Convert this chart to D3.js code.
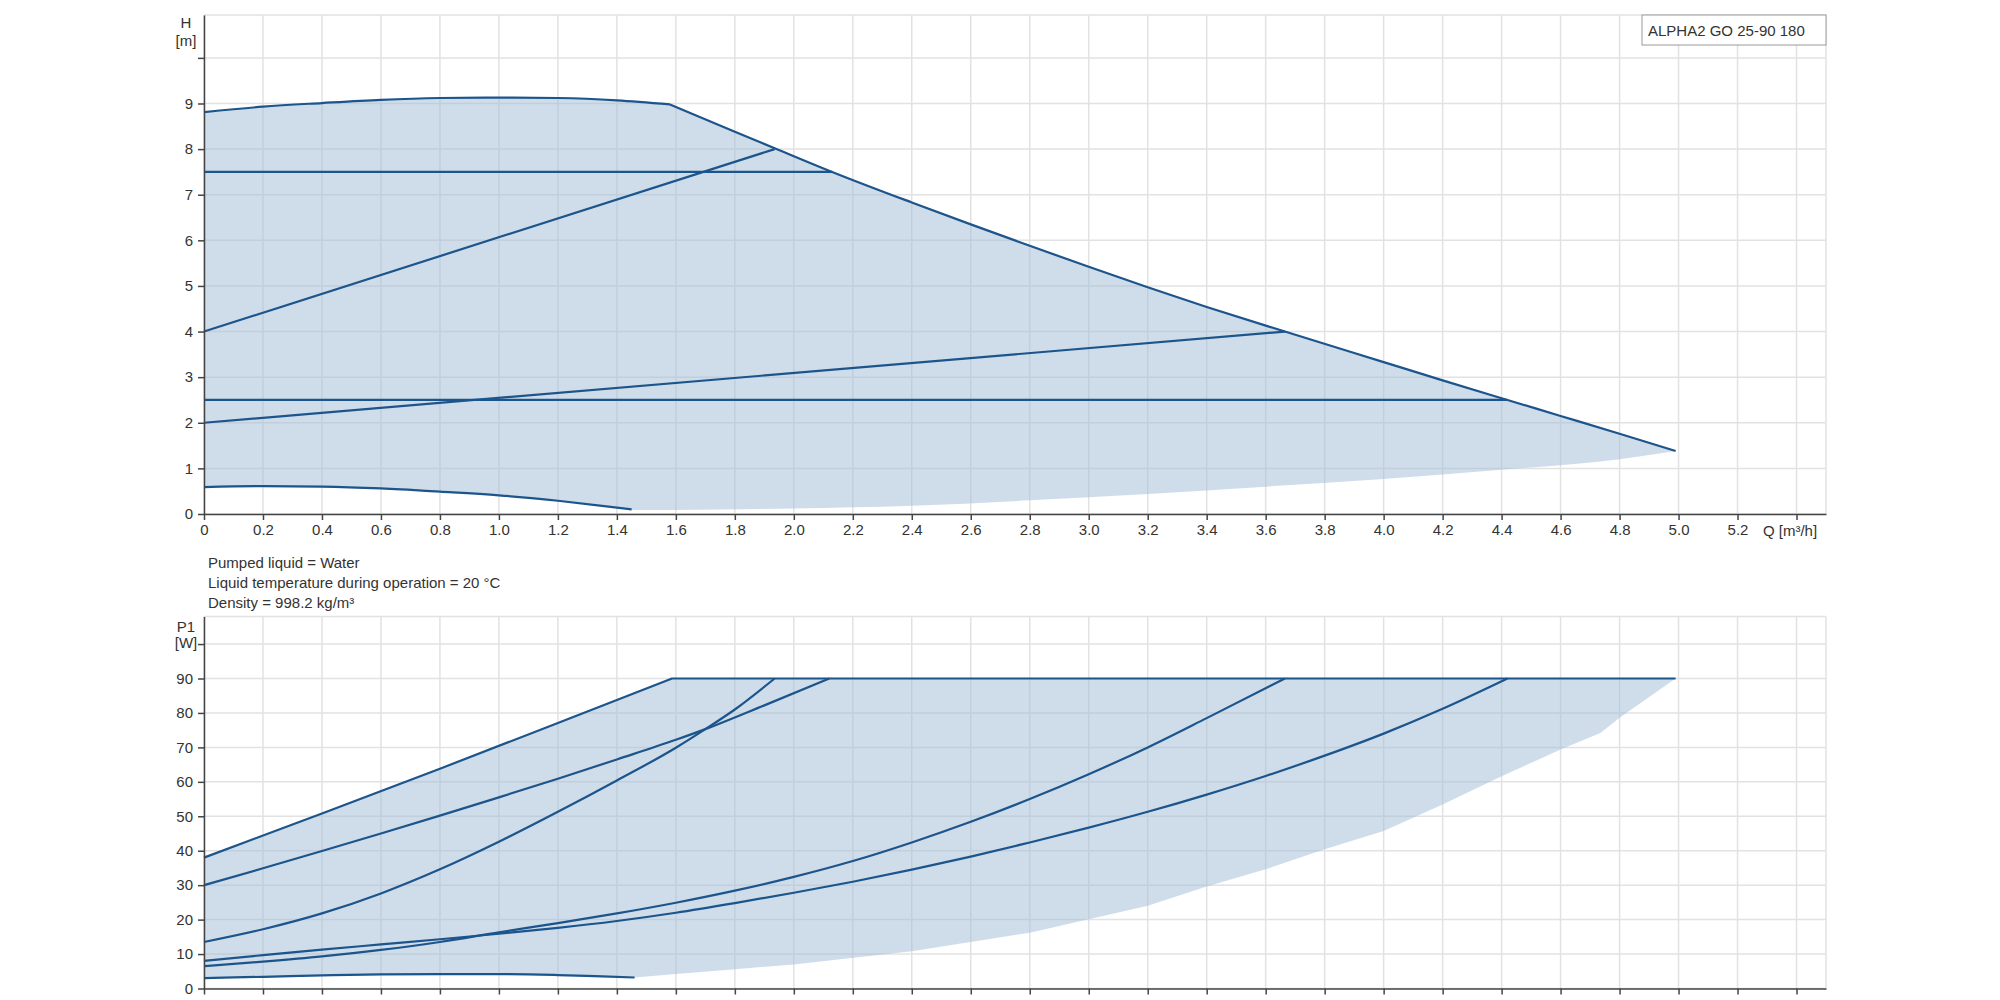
<!DOCTYPE html>
<html>
<head>
<meta charset="utf-8">
<script src="https://cdn.jsdelivr.net/npm/d3@7"></script>
<style>
  body { margin: 0; background: #fff; }
  text { font-family: "Liberation Sans", Arial, sans-serif; fill: #333; font-size: 15px; }
  .grid line { stroke: #e2e2e2; stroke-width: 1.5; }
  .axis path, .axis line { stroke: #444; stroke-width: 1.5; }
  .axis text { font-size: 15px; fill: #333; }
  .curve { fill: none; stroke: #1c548c; stroke-width: 2.2; stroke-linejoin: round; }
  .area { fill: #a3bdd6; fill-opacity: 0.52; stroke: none; }
</style>
</head>
<body>
<svg id="chart" width="2000" height="1000"></svg>
<script>
// ---- tick labels ----
const qTicks = [0, 0.2, 0.4, 0.6, 0.8, 1.0, 1.2, 1.4, 1.6, 1.8, 2.0, 2.2, 2.4, 2.6, 2.8, 3.0, 3.2, 3.4, 3.6, 3.8, 4.0, 4.2, 4.4, 4.6, 4.8, 5.0, 5.2, 5.4];
const hTicks = [0, 1, 2, 3, 4, 5, 6, 7, 8, 9, 10];
const pTicks = [0, 10, 20, 30, 40, 50, 60, 70, 80, 90, 100];

// ---- H(Q) curves [Q m3/h, H m] ----
const hMaxTop = [[0, 8.81], [0.2, 8.93], [0.4, 9.01], [0.6, 9.08], [0.8, 9.12], [1.0, 9.13], [1.2, 9.12], [1.4, 9.07], [1.58, 8.98]];
const hMaxFall = [[1.58, 8.98], [1.8, 8.38], [1.935, 8.02], [2.13, 7.5], [2.4, 6.83], [2.6, 6.35], [2.8, 5.88], [3.0, 5.42],
  [3.2, 4.97], [3.4, 4.54], [3.665, 4.0], [4.0, 3.33], [4.2, 2.93], [4.42, 2.5], [4.6, 2.15], [4.8, 1.76], [4.99, 1.38]];
const hConstHigh = [[0, 7.5], [2.13, 7.5]];
const hPropHigh = [[0, 4.0], [1.935, 8.0]];
const hPropLow = [[0, 2.0], [3.665, 4.0]];
const hConstLow = [[0, 2.5], [4.42, 2.5]];
const hMin = [[0, 0.59], [0.2, 0.61], [0.4, 0.6], [0.6, 0.56], [0.8, 0.49], [1.0, 0.41], [1.2, 0.29], [1.35, 0.18], [1.45, 0.1]];
const hLowEdge = [[1.45, 0.09], [1.6, 0.09], [2.0, 0.12], [2.4, 0.18], [2.8, 0.3], [3.2, 0.44], [3.6, 0.6], [4.0, 0.77], [4.4, 0.97], [4.8, 1.2], [4.99, 1.38]];

// ---- P1(Q) curves [Q m3/h, P1 W] ----
const pMax = [[0, 38], [0.4, 50.8], [0.8, 63.8], [1.2, 77.1], [1.587, 90], [4.99, 90]];
const pConstHigh = [[0, 30], [0.2, 34.9], [0.4, 39.9], [0.6, 45], [0.8, 50.2], [1.0, 55.5], [1.2, 60.9], [1.4, 66.5], [1.6, 72.2], [1.7, 75.3], [1.9, 82.2], [2.12, 90]];
const pPropHigh = [[0, 13.5], [0.2, 17.2], [0.4, 21.8], [0.6, 27.6], [0.8, 34.6], [1.0, 42.6], [1.2, 51.3], [1.4, 60.4], [1.6, 69.9], [1.7, 75.3], [1.8, 81], [1.935, 90]];
const pPropLow = [[0, 6.5], [0.2, 7.8], [0.4, 9.3], [0.6, 11.2], [0.8, 13.5], [1.0, 16.3], [1.2, 19.0], [1.4, 21.8], [1.6, 24.9], [1.8, 28.4], [2.0, 32.4],
  [2.2, 37], [2.4, 42.4], [2.6, 48.4], [2.8, 55], [3.0, 62.2], [3.2, 70], [3.4, 78.5], [3.665, 90]];
const pConstLow = [[0, 8], [0.2, 9.7], [0.4, 11.3], [0.6, 12.8], [0.8, 14.3], [1.0, 15.9], [1.2, 17.6], [1.4, 19.6], [1.6, 22], [1.8, 24.8], [2.0, 27.8],
  [2.2, 31], [2.4, 34.5], [2.6, 38.3], [2.8, 42.4], [3.0, 46.7], [3.2, 51.3], [3.4, 56.3], [3.6, 61.7], [3.8, 67.6], [4.0, 74], [4.2, 81.2], [4.42, 90]];
const pMin = [[0, 3.0], [0.2, 3.4], [0.4, 3.8], [0.6, 4.1], [0.8, 4.2], [1.0, 4.2], [1.2, 3.9], [1.35, 3.5], [1.46, 3.2]];
const pLowEdge = [[1.46, 3.2], [1.6, 4.2], [1.8, 5.6], [2.0, 7.0], [2.4, 10.8], [2.8, 16.2], [3.2, 24], [3.4, 29.6], [3.6, 34.6], [3.8, 40.4],
  [4.0, 45.7], [4.2, 53.4], [4.4, 61.6], [4.6, 69.4], [4.735, 74.2], [4.8, 78.6], [4.99, 90]];

const infoLines = ["Pumped liquid = Water", "Liquid temperature during operation = 20 °C", "Density = 998.2 kg/m³"];
const pumpName = "ALPHA2 GO 25-90 180";

const svg = d3.select("#chart");
const left = 204, right = 1826;

const x = d3.scaleLinear().domain([0, 5.5]).range([left, right]);
const yH = d3.scaleLinear().domain([0, 10.94]).range([514, 15]);
const yP = d3.scaleLinear().domain([0, 108]).range([988.5, 616.5]);

const fmtQ = d => d === 0 ? "0" : (d > 5.3 ? "" : d.toFixed(1));

function panel(y, yTicks, yTop, yLabels) {
  const [y0, y1] = y.range();
  const g = svg.append("g");

  // grid
  const grid = g.append("g").attr("class", "grid");
  grid.selectAll(".v").data(qTicks.concat([5.5])).enter().append("line")
      .attr("x1", d => x(d)).attr("x2", d => x(d)).attr("y1", y0).attr("y2", y1);
  grid.selectAll(".h").data(yTicks.concat([yTop])).enter().append("line")
      .attr("x1", left).attr("x2", right).attr("y1", d => y(d)).attr("y2", d => y(d));

  // axis labels at the top left
  g.append("text").attr("x", 186).attr("y", y1 + yLabels[2]).attr("text-anchor", "middle").text(yLabels[0]);
  g.append("text").attr("x", 186).attr("y", y1 + yLabels[3]).attr("text-anchor", "middle").text(yLabels[1]);
  return g;
}

// area outline: pieces are [points, smooth?], walked in order, joined into one closed path
function drawCurves(g, y, pieces, lines) {
  const smooth = d3.line().x(d => x(d[0])).y(d => y(d[1])).curve(d3.curveMonotoneX);
  const straight = d3.line().x(d => x(d[0])).y(d => y(d[1]));
  const d = pieces.map((p, i) => {
    const s = (p[1] ? smooth : straight)(p[0]);
    return i === 0 ? s : s.replace(/^M/, "L");
  }).join("") + "Z";
  g.append("path").attr("class", "area").attr("d", d);
  lines.forEach(l => g.append("path").attr("class", "curve").attr("d", (l[1] ? smooth : straight)(l[0])));
}

const rev = a => a.slice().reverse();

// ---- top chart: H ----
const headChart = panel(yH, hTicks, 10.94, ["H", "[m]", 13, 31]);
drawCurves(headChart, yH,
  [[hMaxTop, true], [hMaxFall, true], [rev(hLowEdge), true], [rev(hMin), true]],
  [[hMaxTop, true], [hMaxFall, true], [hConstHigh, false], [hPropHigh, false], [hPropLow, false], [hConstLow, false], [hMin, true]]);

headChart.append("g").attr("class", "axis").attr("transform", "translate(" + left + ",0)")
   .call(d3.axisLeft(yH).tickValues(hTicks).tickSize(6).tickSizeOuter(0).tickPadding(5)
     .tickFormat(d => d === 10 ? "" : d));
headChart.append("g").attr("class", "axis").attr("transform", "translate(0,514)")
   .call(d3.axisBottom(x).tickValues(qTicks).tickSize(6).tickSizeOuter(0).tickPadding(4).tickFormat(fmtQ));
headChart.append("text").attr("x", 1790).attr("y", 536).attr("text-anchor", "middle").text("Q [m³/h]");

// pump name box
headChart.append("rect").attr("x", 1642).attr("y", 15).attr("width", 184).attr("height", 30)
   .attr("fill", "#fff").attr("stroke", "#9a9a9a").attr("stroke-width", 1);
headChart.append("text").attr("x", 1648).attr("y", 36).text(pumpName);

// info text
svg.selectAll(".info").data(infoLines).enter().append("text")
   .attr("x", 208).attr("y", (d, i) => 568 + i * 20).text(d => d);

// ---- bottom chart: P1 ----
const powerChart = panel(yP, pTicks, 108, ["P1", "[W]", 15, 31]);
drawCurves(powerChart, yP,
  [[pMax, false], [rev(pLowEdge), false], [rev(pMin), true]],
  [[pMax, false], [pConstHigh, true], [pPropHigh, true], [pPropLow, true], [pConstLow, true], [pMin, true]]);

powerChart.append("g").attr("class", "axis").attr("transform", "translate(" + left + ",0)")
   .call(d3.axisLeft(yP).tickValues(pTicks).tickSize(6).tickSizeOuter(0).tickPadding(5)
     .tickFormat(d => d === 100 ? "" : d));
powerChart.append("g").attr("class", "axis").attr("transform", "translate(0,988.5)")
   .call(d3.axisBottom(x).tickValues(qTicks).tickSize(6).tickSizeOuter(0).tickFormat(""));
</script>
</body>
</html>
